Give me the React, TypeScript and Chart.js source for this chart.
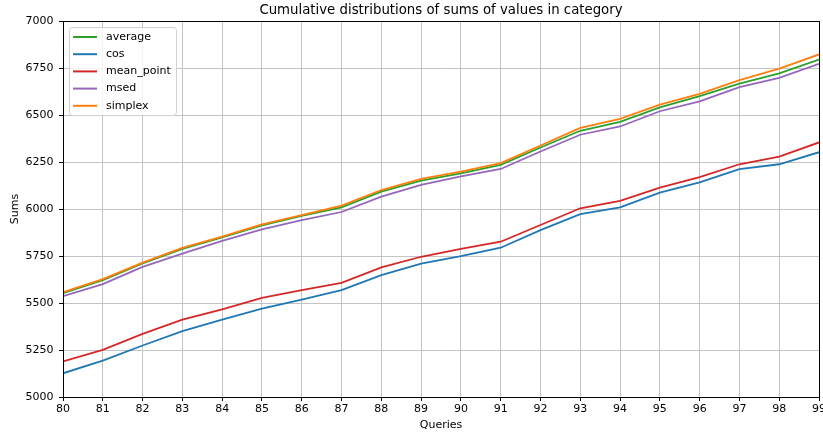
import React, { useEffect, useRef } from "react";
import { Chart, registerables } from "chart.js";

Chart.register(...registerables);

const chartTitle = "Cumulative distributions of sums of values in category";
const xAxisTitle = "Queries";
const yAxisTitle = "Sums";

const queries = [80, 81, 82, 83, 84, 85, 86, 87, 88, 89, 90, 91, 92, 93, 94, 95, 96, 97, 98, 99];

const average = [5553, 5621, 5710, 5788, 5849, 5913, 5963, 6009, 6092, 6151, 6190, 6235, 6327, 6416, 6463, 6541, 6600, 6667, 6721, 6795];
const cos = [5126, 5194, 5274, 5350, 5411, 5470, 5518, 5568, 5648, 5710, 5749, 5794, 5888, 5973, 6009, 6087, 6142, 6212, 6238, 6302];
const meanPoint = [5189, 5251, 5336, 5411, 5466, 5527, 5568, 5607, 5689, 5746, 5788, 5826, 5915, 6004, 6043, 6114, 6169, 6238, 6279, 6354];
const msed = [5536, 5600, 5692, 5763, 5831, 5891, 5941, 5984, 6066, 6128, 6173, 6213, 6306, 6395, 6439, 6520, 6573, 6648, 6697, 6772];
const simplex = [5558, 5627, 5715, 5793, 5853, 5918, 5968, 6018, 6101, 6160, 6199, 6244, 6338, 6431, 6480, 6555, 6612, 6685, 6747, 6822];

const seriesNames = ["average", "cos", "mean_point", "msed", "simplex"];
const seriesValues = [average, cos, meanPoint, msed, simplex];
const seriesColors = ["#2ca02c", "#1f77b4", "#d62728", "#9467bd", "#ff7f0e"];

const yMin = 5000;
const yMax = 7000;
const yStep = 250;
const xMin = 80;
const xMax = 99;

const FONT = "'DejaVu Sans', sans-serif";

const framePlugin = {
  id: "frame",
  afterDatasetsDraw(chart: any) {
    const { ctx, chartArea } = chart;
    ctx.save();
    ctx.strokeStyle = "#000";
    ctx.lineWidth = 1;
    ctx.strokeRect(
      Math.round(chartArea.left) + 0.5,
      Math.round(chartArea.top) + 0.5,
      Math.round(chartArea.right) - Math.round(chartArea.left),
      Math.round(chartArea.bottom) - Math.round(chartArea.top)
    );
    ctx.restore();
  },
};

const titlePlugin = {
  id: "mplTitle",
  afterDraw(chart: any) {
    const { ctx, chartArea } = chart;
    ctx.save();
    ctx.font = `13.3px ${FONT}`;
    ctx.fillStyle = "#000";
    ctx.textAlign = "center";
    ctx.textBaseline = "alphabetic";
    ctx.fillText(chartTitle, (chartArea.left + chartArea.right) / 2, 14);
    ctx.restore();
  },
};

const legendPlugin = {
  id: "mplLegend",
  afterDraw(chart: any) {
    const { ctx, chartArea } = chart;
    const x0 = chartArea.left + 6.5;
    const y0 = chartArea.top + 6.5;
    const w = 107;
    const h = 88;
    const r = 3;
    ctx.save();
    ctx.beginPath();
    ctx.moveTo(x0 + r, y0);
    ctx.lineTo(x0 + w - r, y0);
    ctx.arcTo(x0 + w, y0, x0 + w, y0 + r, r);
    ctx.lineTo(x0 + w, y0 + h - r);
    ctx.arcTo(x0 + w, y0 + h, x0 + w - r, y0 + h, r);
    ctx.lineTo(x0 + r, y0 + h);
    ctx.arcTo(x0, y0 + h, x0, y0 + h - r, r);
    ctx.lineTo(x0, y0 + r);
    ctx.arcTo(x0, y0, x0 + r, y0, r);
    ctx.closePath();
    ctx.fillStyle = "rgba(255,255,255,0.8)";
    ctx.fill();
    ctx.strokeStyle = "#d0d0d0";
    ctx.lineWidth = 1;
    ctx.stroke();

    ctx.font = `11px ${FONT}`;
    ctx.textAlign = "left";
    ctx.textBaseline = "middle";
    chart.data.datasets.forEach((ds: any, i: number) => {
      const cy = y0 + 9.5 + i * 17.2;
      ctx.beginPath();
      ctx.strokeStyle = ds.borderColor;
      ctx.lineWidth = 2;
      ctx.moveTo(x0 + 3.5, cy);
      ctx.lineTo(x0 + 27.5, cy);
      ctx.stroke();
      ctx.fillStyle = "#000";
      ctx.fillText(ds.label, x0 + 36.5, cy);
    });
    ctx.restore();
  },
};

export default function App() {
  const canvasRef = useRef<HTMLCanvasElement | null>(null);

  useEffect(() => {
    const canvas = canvasRef.current;
    if (!canvas) return;
    const datasets = seriesNames.map((name, i) => ({
      label: name,
      data: queries.map((q, j) => ({ x: q, y: seriesValues[i][j] })),
      borderColor: seriesColors[i],
      backgroundColor: seriesColors[i],
      borderWidth: 1.8,
      pointRadius: 0,
      tension: 0,
      fill: false,
      order: seriesNames.length - 1 - i,
    }));

    const chart = new Chart(canvas, {
      type: "line",
      data: { datasets },
      options: {
        responsive: false,
        maintainAspectRatio: false,
        animation: false,
        devicePixelRatio: 1,
        layout: { padding: { top: 21, right: 23, left: 0, bottom: 0 } },
        plugins: {
          legend: { display: false },
          tooltip: { enabled: false },
          title: { display: false },
        },
        scales: {
          x: {
            type: "linear",
            min: xMin,
            max: xMax,
            afterFit: (scale: any) => {
              scale.height = 36;
            },
            ticks: {
              stepSize: 1,
              autoSkip: false,
              maxRotation: 0,
              padding: 2,
              color: "#000",
              font: { family: FONT, size: 11 },
              callback: (v: any) => String(v),
            },
            grid: {
              color: "#c4c4c4",
              lineWidth: 1,
              tickColor: "#000",
              tickLength: 4,
            },
            border: { display: true, color: "#000", width: 1 },
            title: {
              display: true,
              text: xAxisTitle,
              color: "#000",
              font: { family: FONT, size: 11 },
              padding: { top: 0, bottom: 1 },
            },
          },
          y: {
            type: "linear",
            min: yMin,
            max: yMax,
            afterFit: (scale: any) => {
              scale.width = 63;
            },
            ticks: {
              stepSize: yStep,
              autoSkip: false,
              padding: 5.5,
              color: "#000",
              font: { family: FONT, size: 11 },
              callback: (v: any) => String(v),
            },
            grid: {
              color: "#c4c4c4",
              lineWidth: 1,
              tickColor: "#000",
              tickLength: 4,
            },
            border: { display: true, color: "#000", width: 1 },
            title: {
              display: true,
              text: yAxisTitle,
              color: "#000",
              font: { family: FONT, size: 11 },
              padding: { top: 8.4, bottom: 0 },
            },
          },
        },
      },
      plugins: [framePlugin, titlePlugin, legendPlugin],
    } as any);

    return () => {
      chart.destroy();
    };
  }, []);

  return (
    <div
      style={{
        position: "fixed",
        left: 0,
        top: 0,
        width: 823,
        height: 433,
        overflow: "hidden",
        background: "#fff",
      }}
    >
      <canvas ref={canvasRef} width={842} height={433} style={{ display: "block", width: 842, height: 433 }} />
    </div>
  );
}
